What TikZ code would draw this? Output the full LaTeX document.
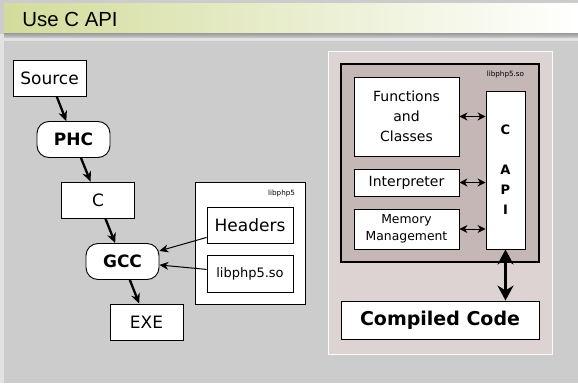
\documentclass[tikz,border=0pt]{standalone}
\usepackage{fontspec}
\setmainfont{DejaVu Sans}
\newfontfamily\titlefont{Liberation Sans}
\usetikzlibrary{arrows.meta}
\definecolor{slidegray}{HTML}{CCCCCC}
\definecolor{slideedge}{HTML}{E2E2E2}
\definecolor{barleft}{HTML}{D3DC9C}
\definecolor{runtimefill}{HTML}{DDD3D3}
\definecolor{libsofill}{HTML}{C6B7B7}
\begin{document}
\begin{tikzpicture}[
        x=1pt, y=-1pt,
        line width=0.9pt,
        font=\fontsize{17}{20}\selectfont
    ]
    \tikzset{
        boxa/.style = {rectangle, draw=black, fill=white, inner sep=0pt, align=center},
        stage/.style = {boxa, minimum width=73pt, minimum height=36pt},
        tool/.style = {stage, rounded corners=12pt, font=\fontsize{17}{20}\selectfont\bfseries},
        part/.style = {boxa, minimum width=105pt},
        tinylabel/.style = {inner sep=0pt, font=\fontsize{7.2}{8}\selectfont},
        edgek/.style = {-{Stealth[length=10pt,width=9pt]}, line width=2.3pt},
        edget/.style = {-{Stealth[length=9pt,width=8pt]}, line width=1pt},
        edged/.style = {{Stealth[length=8pt,width=8pt]}-{Stealth[length=8pt,width=8pt]}, line width=1pt},
        edgew/.style = {{Stealth[length=15pt,width=16pt]}-{Stealth[length=15pt,width=16pt]}, line width=3.5pt},
    }
        \useasboundingbox (0,0) rectangle (578,383);
        % slide background and title bar
        \fill[slidegray] (0,0) rectangle (578,383);
        \fill[slideedge] (0,34) rectangle (4,383);
        \shade[left color=barleft, right color=white] (4,3) rectangle (578,33);
        \shade[top color=black!40, bottom color=slidegray] (4,33) rectangle (578,38);
        \fill[slideedge] (4,38) rectangle (578,40.5);
        \node[anchor=base west, inner sep=0pt, font=\titlefont\fontsize{20.4}{24}\selectfont]
            at (22,26.5) (title) {Use C API};
        %
        \node[stage] at (49.5,78) (source) {Source};
        \node[tool] at (73.5,139.5) (phc) {PHC};
        \node[stage] at (98,200) (c) {C};
        \node[tool] at (122.5,261.5) (gcc) {GCC};
        \node[stage] at (146.5,322) (exe) {EXE};
        %
        \node[boxa, minimum width=110pt, minimum height=122pt] at (250,243) (libdir) {};
        \node[tinylabel, anchor=north east] at ([xshift=-10pt, yshift=-8pt]libdir.north east) (libdirlabel) {libphp5};
        \node[boxa, minimum width=86pt, minimum height=36pt] at (250,225) (headers) {Headers};
        \node[boxa, minimum width=86pt, minimum height=37pt, font=\fontsize{13}{16}\selectfont] at (250,273.5) (libfile) {libphp5.so};
        %
        \draw[edgek] (source) -- (phc);
        \draw[edgek] (phc) -- (c);
        \draw[edgek] (c) -- (gcc);
        \draw[edgek] (gcc) -- (exe);
        \draw[edget] (headers) -- (gcc);
        \draw[edget] (libfile) -- (gcc);
        %
        \node[rectangle, draw=white!92!runtimefill, fill=runtimefill, minimum width=224pt, minimum height=303pt] at (440,202.5) (runtime) {};
        \node[rectangle, draw=black, line width=1.1pt, fill=libsofill, minimum width=198pt, minimum height=198pt] at (440,163) (libso) {};
        \node[tinylabel, anchor=north east] at ([xshift=-15pt, yshift=-7pt]libso.north east) (libsolabel) {libphp5.so};
        \node[part, minimum height=79pt, font=\fontsize{14}{20}\selectfont] at (406.5,116.5) (funcs) {Functions\\and\\Classes};
        \node[part, minimum height=27pt, font=\fontsize{14}{20}\selectfont] at (406.5,182.5) (interp) {Interpreter};
        \node[part, minimum height=40pt, font=\fontsize{12.4}{17}\selectfont] at (406.5,229) (memory) {Memory\\Management};
        \node[boxa, minimum width=39pt, minimum height=158pt, font=\fontsize{13}{20}\selectfont\bfseries] at (505.5,170) (capi) {C\\[20pt]A\\P\\I};
        \node[boxa, minimum width=198pt, minimum height=38pt, font=\fontsize{19}{22}\selectfont\bfseries] at (440,320) (compiled) {Compiled Code};
        %
        \draw[edged] (funcs) -- (funcs -| capi.west);
        \draw[edged] (interp) -- (interp -| capi.west);
        \draw[edged] (memory) -- (memory -| capi.west);
        \draw[edgew] (capi.south) -- (capi.south |- compiled.north);
    \end{tikzpicture}
\end{document}
